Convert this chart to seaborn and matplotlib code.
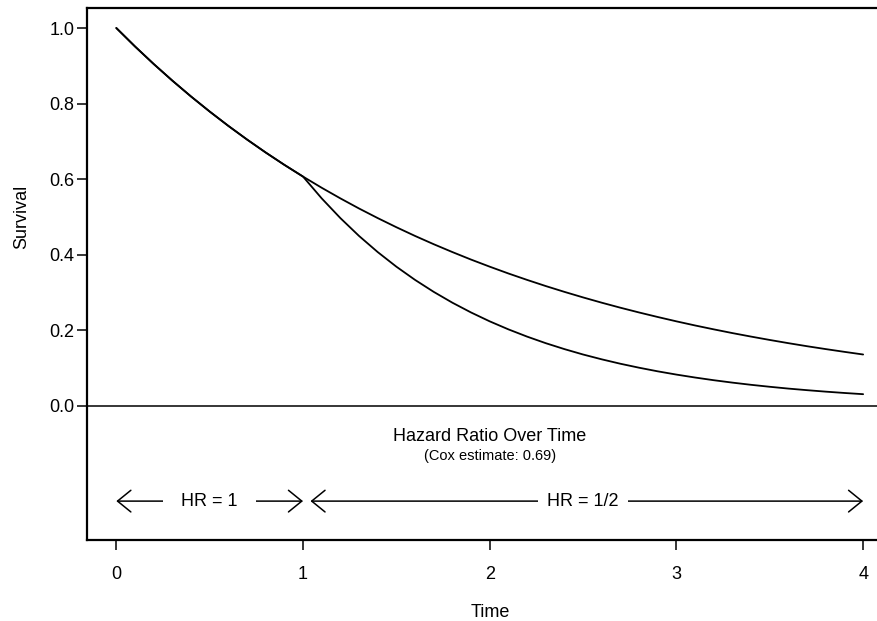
import numpy as np
import pandas as pd
import matplotlib
matplotlib.use("Agg")
import matplotlib.pyplot as plt
import seaborn as sns

# Data
time = [0.0, 0.1, 0.2, 0.3, 0.4, 0.5, 0.6, 0.7, 0.8, 0.9, 1.0,
        1.1, 1.2, 1.3, 1.4, 1.5, 1.6, 1.7, 1.8, 1.9, 2.0,
        2.1, 2.2, 2.3, 2.4, 2.5, 2.6, 2.7, 2.8, 2.9, 3.0,
        3.1, 3.2, 3.3, 3.4, 3.5, 3.6, 3.7, 3.8, 3.9, 4.0]
surv_upper = [1.0000, 0.9512, 0.9048, 0.8607, 0.8187, 0.7788, 0.7408, 0.7047, 0.6703, 0.6376, 0.6065,
              0.5769, 0.5488, 0.5220, 0.4966, 0.4724, 0.4493, 0.4274, 0.4066, 0.3867, 0.3679,
              0.3499, 0.3329, 0.3166, 0.3012, 0.2865, 0.2725, 0.2592, 0.2466, 0.2346, 0.2231,
              0.2122, 0.2019, 0.1920, 0.1827, 0.1738, 0.1653, 0.1572, 0.1496, 0.1423, 0.1353]
surv_lower = [1.0000, 0.9512, 0.9048, 0.8607, 0.8187, 0.7788, 0.7408, 0.7047, 0.6703, 0.6376, 0.6065,
              0.5488, 0.4966, 0.4493, 0.4066, 0.3679, 0.3329, 0.3012, 0.2725, 0.2466, 0.2231,
              0.2019, 0.1827, 0.1653, 0.1496, 0.1353, 0.1225, 0.1108, 0.1003, 0.0907, 0.0821,
              0.0743, 0.0672, 0.0608, 0.0550, 0.0498, 0.0450, 0.0408, 0.0369, 0.0334, 0.0302]
x_ticks = [0, 1, 2, 3, 4]
y_ticks = [0.0, 0.2, 0.4, 0.6, 0.8, 1.0]
y_ticklabels = ["0.0", "0.2", "0.4", "0.6", "0.8", "1.0"]
hr_segments = [(0.0, 1.0), (1.04, 4.0)]
hr_labels = ["HR = 1", "HR = 1/2"]
hr_label_x = [0.5, 2.5]

sns.set_theme(style="white")
plt.rcParams['font.family'] = ['Liberation Sans', 'DejaVu Sans']

df = pd.DataFrame({
    "Time": time * 2,
    "Survival": surv_upper + surv_lower,
    "group": ["upper"] * len(time) + ["lower"] * len(time),
})

fig = plt.figure(figsize=(8.77, 6.21), dpi=100)
ax = fig.add_axes([87 / 877, 81 / 621, (893 - 87) / 877, (613 - 81) / 621])

sns.lineplot(data=df, x="Time", y="Survival", units="group", estimator=None,
             color="black", linewidth=1.3, ax=ax, legend=False)

ax.set_xlim(-0.157, 4.16)
ax.set_ylim(-0.356, 1.053)
ax.axhline(0, color="black", linewidth=1.1)

for s in ["left", "bottom", "top"]:
    ax.spines[s].set_visible(True)
    ax.spines[s].set_linewidth(1.6)
    ax.spines[s].set_color("black")
ax.spines["right"].set_visible(False)

ax.set_xticks(x_ticks)
ax.set_xticklabels([str(v) for v in x_ticks])
ax.set_yticks(y_ticks)
ax.set_yticklabels(y_ticklabels)
ax.tick_params(axis="both", which="major", direction="out", length=7.5, width=1.1,
               color="black", labelsize=13, labelcolor="black",
               bottom=True, left=True)
ax.tick_params(axis="x", pad=11)
ax.tick_params(axis="y", pad=1.5)
ax.set_xlabel("Time", fontsize=13, labelpad=15, color="black")
ax.set_ylabel("")
ax.text(-0.157 - 65 / 186.75, 0.5, "Survival", rotation=90, ha="center", va="center",
        fontsize=13, color="black", transform=ax.transData, clip_on=False)

ax.text(2.0, -0.083, "Hazard Ratio Over Time", ha="center", va="center",
        fontsize=13, color="black")
ax.text(2.0, -0.134, "(Cox estimate: 0.69)", ha="center", va="center",
        fontsize=10.5, color="black")

arrow_y = -0.253
for (x0, x1) in hr_segments:
    ax.annotate("", xy=(x1, arrow_y), xytext=(x0, arrow_y),
                arrowprops=dict(arrowstyle="<->,head_length=0.8,head_width=0.65",
                                color="black", lw=1.1, shrinkA=0, shrinkB=0))
pads = [1.0, 0.5]
for lx, lab, p in zip(hr_label_x, hr_labels, pads):
    ax.text(lx, arrow_y, lab, ha="center", va="center", fontsize=13, color="black",
            bbox=dict(boxstyle=f"square,pad={p}", facecolor="white", edgecolor="none"),
            zorder=5)

fig.savefig("out.png", dpi=100)
